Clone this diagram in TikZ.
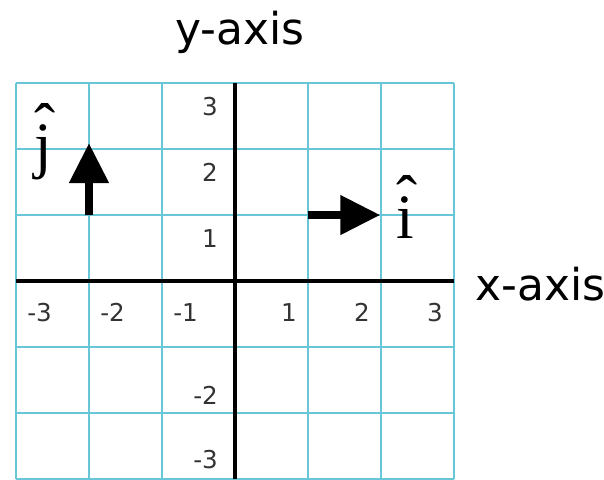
\documentclass[tikz,border=0pt]{standalone}
\usepackage{fontspec}
\setsansfont{DejaVu Sans}
\newfontfamily\unitfont{Liberation Serif}
\usetikzlibrary{arrows.meta}
\definecolor{gridcyan}{RGB}{105,198,214}
\newcommand\withhat[1]{\ooalign{\hfil\raisebox{0.3em}{\symbol{"02C6}}\hfil\cr #1\cr}}

\begin{document}
\begin{tikzpicture}[
        x=1.46cm, y=1.32cm,
        gridline/.style={draw=gridcyan, line width=1.3pt},
        axisline/.style={draw=black, line width=2.8pt},
        ticklabel/.style={font=\sffamily\fontsize{14}{16}\selectfont, text=black!80, inner sep=0pt},
        axislabel/.style={font=\sffamily\fontsize{25}{30}\selectfont, inner sep=0pt},
        unitvec/.style={line width=4.5pt, -{Triangle[length=0.8cm, width=0.76cm]}},
        hatlabel/.style={font=\unitfont\fontsize{36}{42}\selectfont, inner sep=0pt},
    ]
        \useasboundingbox (-3.219,-3) rectangle (5.055,4.258);

        % Grid
        \foreach \k in {-3,...,3} {
            \draw[gridline] (\k,-3) -- (\k,3);
            \draw[gridline] (-3,\k) -- (3,\k);
        }

        % Axes
        \draw[axisline] (-3,0) -- (3,0);
        \draw[axisline] (0,-3) -- (0,3);

        % Axis labels
        \node[axislabel, anchor=base] (ylabel) at (0.07,3.58) {y-axis};
        \node[axislabel, anchor=base west] (xlabel) at (3.29,-0.29) {x-axis};

        % Tick labels
        \foreach \n/\k in {-3/a, -2/b, -1/c} {
            \node[ticklabel, anchor=west] (xt\k) at (\n+0.15,-0.47) {\n};
        }
        \foreach \n in {1,2,3} {
            \node[ticklabel, anchor=east] (xt\n) at (\n-0.15,-0.47) {\n};
            \node[ticklabel, anchor=east] (yt\n) at (-0.23,\n-0.35) {\n};
        }
        \node[ticklabel, anchor=east] (ytb) at (-0.23,-1.73) {-2};
        \node[ticklabel, anchor=east] (yta) at (-0.23,-2.71) {-3};

        % Unit vectors
        \coordinate (jtail) at (-2,1);
        \coordinate (jtip) at (-2,2.09);
        \coordinate (itail) at (1,1);
        \coordinate (itip) at (1.99,1);
        \draw[unitvec] (jtail) -- (jtip);
        \draw[unitvec] (itail) -- (itip);
        \node[hatlabel, anchor=base] (jhat) at (-2.60,1.73) {\withhat{j}};
        \node[hatlabel, anchor=base] (ihat) at (2.36,0.65) {\withhat{i}};

    \end{tikzpicture}
\end{document}
